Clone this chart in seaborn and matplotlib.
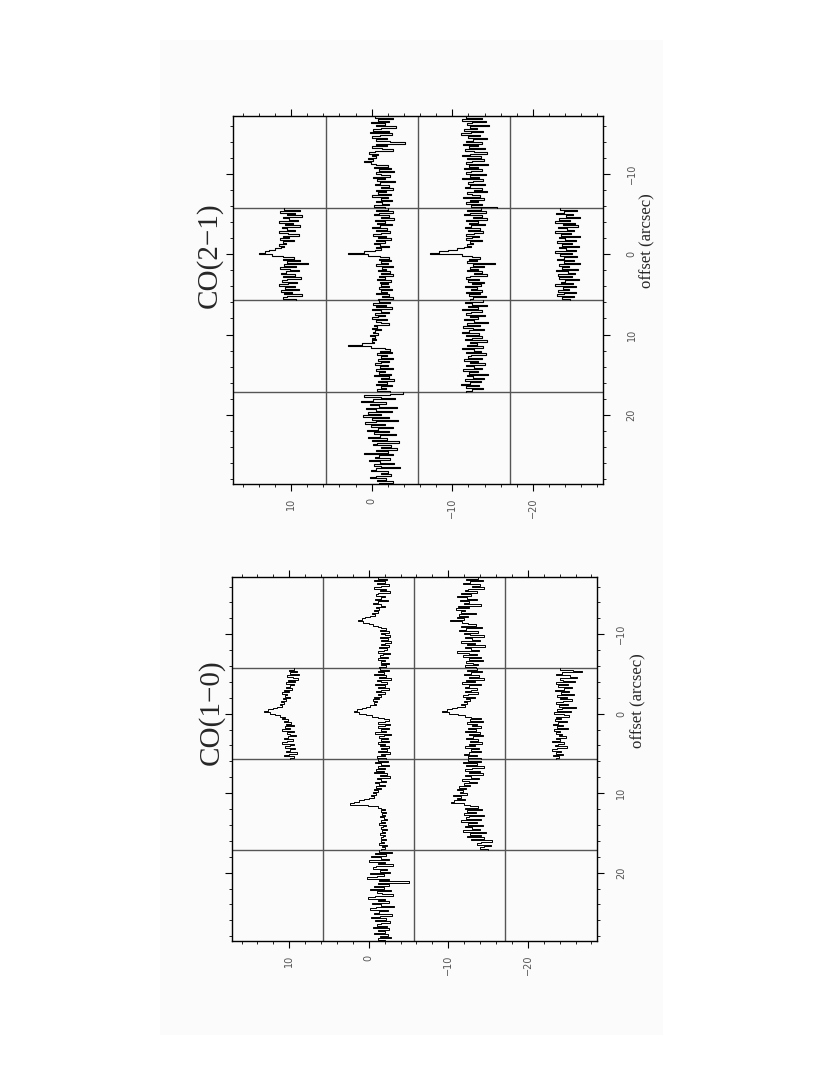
import numpy as np
import pandas as pd
import seaborn as sns
import matplotlib.pyplot as plt
from matplotlib.patches import Rectangle

# pointing grid spacing (arcsec) and pointing offsets (dx, dy)
cell = 11.45
pt_dx = [0, -11.45, 0, 11.45, 22.9, -11.45, 0, 11.45, 0]
pt_dy = [11.45, 0, 0, 0, 0, -11.45, -11.45, -11.45, -22.9]

# ---- CO(1-0) spectra (intensity in plot units, 64 channels each) ----
co10_y11_x0 = [-0.4, 0.3, -0.7, 0.1, -1.0, 0.5, -0.2, -0.8, 0.4, -0.5, 0.7, -0.3, 0.2, 0.6, -0.1, 0.9,
               0.3, 1.1, 0.5, 0.8, 0.2, 1.0, 0.6, 1.3, 0.9, 1.4, 1.1, 1.8, 2.3, 2.9, 3.4, 2.7,
               2.0, 1.4, 0.8, 1.1, 0.4, 0.9, 0.0, 0.6, -0.4, 0.8, 0.2, 1.1, -0.3, 0.5, 0.2, -0.6,
               0.4, 0.9, -0.2, 0.5, 1.2, -0.3, 0.2, 0.8, -0.5, 0.1, 0.6, -0.7, 0.3, 0.9, -0.4, 0.2]
co10_y0_xm11 = [0.5, -0.6, 1.0, -0.3, 0.7, -0.9, 0.2, 1.1, -0.5, 0.3, -1.0, 0.6, 0.8, -0.4, 0.2, 0.9,
                -0.7, 0.5, 1.2, 0.1, -0.3, 0.8, 0.4, 1.0, 0.6, 1.3, 0.9, 1.6, 2.2, 2.6, 3.0, 2.4,
                1.7, 1.2, 0.6, 0.2, -0.5, 0.3, -0.8, 0.2, -0.3, -1.0, 0.3, -0.7, 0.1, -1.1, -0.4, 0.2,
                -0.9, 0.4, -0.6, -0.2, 0.5, -1.0, -0.1, 0.3, -0.7, 0.6, -0.4, 0.1, -0.9, 0.2, -0.5, 0.4]
co10_y0_x0 = [0.3, -0.8, 0.6, -0.2, 1.0, -0.5, 0.4, -1.1, 0.7, 0.1, -0.6, 0.9, -0.3, 0.5, -0.9, 0.2,
              0.8, -0.4, 0.6, 0.1, 1.0, 0.4, 1.2, 0.7, 1.1, 0.8, 1.5, 2.0, 2.6, 3.2, 3.6, 2.9,
              2.1, 1.3, 0.6, -0.2, -0.9, -0.4, 0.6, -1.0, -0.3, 0.5, -0.8, 0.2, -0.5, 0.9, -1.1, -0.2,
              0.4, -0.7, 0.1, -0.9, 0.6, -0.4, 0.3, -0.8, 0.2, -0.6, 0.5, -1.0, 0.1, -0.3, 0.7, -0.5]
co10_y0_x11 = [0.6, -0.7, 0.9, 0.1, -0.9, 0.5, -0.4, 0.8, -0.2, 1.0, -0.6, 0.3, -1.0, 0.7, 0.2, -0.5,
               0.9, 0.4, -0.3, 0.8, 0.2, 1.1, 0.5, 1.2, 0.8, 1.4, 1.1, 1.7, 2.3, 2.9, 3.5, 4.0,
               1.8, 0.5, 0.1, -0.3, 0.2, -0.5, 0.0, -0.4, 0.3, -0.2, -0.6, 0.1, -0.3, 0.4, -0.5, -0.1,
               0.2, -0.6, 0.0, -0.3, 0.3, -0.4, -0.1, 0.1, -0.5, 0.2, -0.2, 0.4, -0.6, 0.0, -0.3, 0.2]
co10_y0_x23 = [0.4, -1.2, 0.9, -0.5, 1.4, 0.2, -0.9, 1.7, -0.3, 0.6, -1.4, 0.8, 1.2, -0.6, 0.3, -1.0,
               1.5, -0.2, 0.7, 1.9, -0.8, 0.4, -3.4, 0.5, -0.8, 1.1, -0.2, 1.6, -1.1, 0.7, 0.0, -1.3,
               0.9, 1.8, -0.4, 0.6, -0.9, 1.3, 0.2, -1.5, 0.8, 1.6, -0.7, 0.4, 1.0, -1.2, 0.3, 1.4,
               -0.5, 0.9, -1.0, 0.2, 0.7, -0.6, 1.2, -0.9, 0.5, -0.3, 1.1, -0.7, 0.3, -1.1, 0.6, -0.4]
co10_ym11_xm11 = [-0.6, 0.9, -1.2, 0.4, 1.3, -0.8, 0.2, -1.4, 0.7, 1.1, -0.5, 1.6, 0.3, 2.0, 0.8, -0.4,
                  1.7, 0.5, 1.2, -0.9, 1.9, 0.6, 2.2, 1.0, 1.5, -0.3, 1.8, 0.7, 2.1, 1.2, 2.9, 1.4,
                  0.7, -0.3, 1.5, -1.1, 0.9, 1.8, -0.6, 1.2, 0.4, -1.3, 1.0, 0.2, -0.8, 1.6, -0.2, 0.8,
                  -1.5, 1.1, 0.3, -0.7, 2.1, 0.5, -0.4, 1.3, -0.9, 0.6, -1.2, 0.9, 0.1, -0.6, 1.0, -0.3]
co10_ym11_x0 = [-0.5, 0.8, -1.1, 0.3, 1.2, -0.7, 0.5, -1.3, 0.9, -0.2, 1.4, -0.9, 0.6, 1.0, -0.4, 0.3,
                1.1, -0.6, 0.7, 1.3, -0.2, 0.9, 0.4, 1.2, 0.8, 1.5, 1.1, 2.0, 2.7, 3.3, 3.9, 3.0,
                1.9, 1.0, 0.3, -0.9, 0.4, -1.2, 0.8, -0.5, 0.2, -1.0, 0.7, -0.3, 1.1, -0.8, 0.5, -1.2,
                0.1, 0.9, -0.6, 0.4, -1.1, 0.6, -0.2, 1.0, -0.7, 0.3, -0.9, 0.5, 1.2, -0.4, 0.7, -1.0]
co10_ym11_x11 = [0.7, -1.0, 1.3, -0.4, 0.9, -1.4, 0.2, 1.1, -0.8, 0.5, -1.2, 1.0, 0.3, -0.7, 1.4, 0.6,
                 -0.5, 1.2, 0.4, 1.8, 0.9, 2.1, 1.3, 1.7, 0.8, 2.5, 1.6, 2.0, 1.1, 2.4, 2.8, 1.2,
                 0.4, -0.6, 1.0, -1.1, 0.8, -0.3, 1.2, -1.4, 0.5, 0.9, -0.9, 1.6, -0.5, 0.7, -1.2, 1.1,
                 0.2, -0.8, 1.3, -1.6, 0.4, -0.9, 0.8, -1.3, 0.3, -2.4, -1.0, -0.5, -2.2, -1.4, -0.8, -1.9]
co10_ym23_x0 = [0.6, -1.1, -2.2, 0.3, 1.0, -0.7, -1.6, 0.5, 0.2, -1.3, 1.1, -0.4, 0.8, -0.9, 0.1, 1.2,
                -0.6, 0.4, -1.2, 0.9, -0.3, 0.6, -1.0, 0.2, 1.1, -0.5, 0.7, -1.4, 0.3, 0.9, -0.8, 1.3,
                0.0, -0.6, 1.0, 0.4, 1.2, -0.3, 0.8, 1.4, 0.2, 0.9, -0.4, 1.3, 0.6, 1.0, 0.3, 0.7,
                -0.2, 1.1, 0.5, 1.5, 0.1, 0.8, 1.2, -0.3, 0.9, 1.6, 0.4, 1.0, 0.2, 1.4, 0.7, 1.1]

# ---- CO(2-1) spectra ----
co21_y11_x0 = [0.8, -1.1, 1.3, -0.5, 0.4, -1.4, 1.0, 0.2, -0.9, 1.5, -0.3, 0.7, -1.2, 1.1, 0.5, -0.6,
               1.4, 0.3, -1.0, 0.9, 0.2, 1.3, -0.4, 1.0, 0.6, 1.5, 0.8, 1.2, 1.9, 2.7, 3.2, 3.9,
               2.3, 1.0, -0.4, 0.9, -1.1, 0.5, -2.1, 0.8, -0.7, 1.3, 0.1, -1.0, 0.6, 1.2, -0.5, 0.9,
               -1.3, 0.4, 1.1, -0.8, 0.3, 1.4, -0.6, 0.7, -1.0, 1.2, -0.2, 0.8, -1.4, 0.5, 1.0, -0.7]
co21_y0_xm11 = [1.0, -1.3, 0.6, -0.8, 1.5, -0.2, 0.9, -1.6, 0.3, 1.2, -0.7, 1.6, -1.1, 0.4, 1.3, -0.5,
                0.8, -0.9, -2.7, 0.8, -0.5, 1.3, 0.1, -1.2, 1.0, 1.7, 0.6, 1.4, 0.9, 1.8, 1.2, 2.3,
                1.5, 0.9, -0.6, 1.1, -1.0, 0.5, -1.4, 0.8, 0.2, -0.9, 1.2, -0.3, 0.7, -1.5, 0.4, 1.0,
                -0.8, 0.2, -1.2, 0.9, -0.4, 0.6, -1.0, 1.3, -0.6, 0.3, -1.1, 0.8, 0.1, -0.7, 1.1, -0.3]
co21_y0_x0 = [-0.6, 0.9, -1.2, 0.5, 1.1, -0.8, 0.3, -1.4, 1.0, -0.2, 0.7, -1.1, 0.4, 1.3, -0.5, 0.8,
              -0.9, 0.2, 1.2, -0.4, 0.6, -1.0, 0.9, -0.3, 1.1, 0.4, -0.7, 0.8, 0.3, 1.0, 2.3, 4.3,
              1.9, 0.4, -0.7, 0.5, -1.0, 0.3, -0.6, 0.8, -1.2, 0.1, -0.4, 0.6, -0.9, 0.3, -1.3, 0.5,
              -0.2, 0.7, -1.0, 0.4, -0.6, 0.2, -0.8, 0.5, -1.1, 0.3, -0.5, 0.9, -0.7, 0.1, -1.2, 0.6]
co21_y0_x11 = [0.5, -0.9, 1.2, -0.4, 0.8, -1.1, 1.4, 0.2, -0.7, 1.0, -0.3, 0.6, 1.3, -0.5, 0.9, 0.3,
               -0.8, 1.1, 0.7, 1.4, 0.2, 1.0, 1.2, 0.6, 1.6, 1.0, 1.3, 0.8, 1.4, 1.1, 2.6, 4.3,
               1.5, -0.2, -0.9, 0.4, -1.1, 0.7, -0.5, 0.2, -1.3, 0.6, -0.8, 0.3, 1.0, -0.6, 0.4, -1.2,
               0.8, -0.3, 0.5, -1.0, 1.1, -0.7, 0.2, -1.4, 0.6, -0.5, 0.9, -1.1, 0.3, -0.4, 0.7, -0.9]
co21_y0_x23 = [-2.5, -0.9, 2.4, 0.3, -1.5, 1.2, 2.7, -0.4, 1.6, 0.5, -1.8, 2.1, 0.8, -1.1, 1.9, 0.2,
               2.5, -0.7, 1.3, -1.9, 0.9, 2.2, -0.3, 1.5, -1.2, 0.6, 2.0, -0.8, 1.1, -1.6, 0.4, 1.8,
               -0.5, 1.4, -2.0, 0.7, 1.2, -1.0, 0.3, -1.7, 0.9, -0.6, 2.3, -1.3, 0.5, 1.0, -0.9, 1.7,
               0.4, -1.4, 1.1, 0.2, -2.1, 0.8, 1.5, -0.6, 0.3, -1.0, 0.9, 1.6, -0.4, 0.7, -1.2, 0.5]
co21_ym11_xm11 = [1.2, -0.8, 1.6, -1.3, 0.4, 1.0, -1.7, 0.7, -0.2, 1.4, -1.0, 0.5, 1.8, -0.6, 0.9, -1.4,
                  0.3, 1.1, -0.9, 1.5, -0.4, 0.8, -1.2, 1.3, 0.2, -1.5, 0.6, 1.7, -0.7, 1.0, -1.1, 0.4,
                  1.2, -1.6, 0.8, -0.3, 1.4, -0.9, 0.5, 1.1, -1.3, 0.7, -0.5, 1.6, -1.0, 0.3, 0.9, -1.2,
                  0.6, 1.3, -0.8, 0.2, -1.5, 1.0, 0.4, -0.6, 1.5, -1.1, 0.7, -0.3, 1.2, -0.9, 0.5, -2.7]
co21_ym11_x0 = [-0.7, 1.0, -1.3, 0.6, 1.4, -0.9, 0.3, -1.5, 1.1, -0.4, 0.8, -1.2, 0.5, 1.3, -0.6, 0.9,
                -1.0, 0.2, 1.2, -0.5, 0.4, 1.1, -0.8, 0.7, 0.3, 1.0, 0.5, 1.4, 2.3, 3.4, 4.5, 5.6,
                1.6, 0.4, -0.6, 0.8, -0.2, 1.0, -2.5, 0.3, -1.1, 0.7, -0.4, 1.0, -0.8, 0.2, -1.4, 0.6,
                1.2, -0.5, 0.9, -1.1, 0.4, -0.7, 1.3, -0.2, 0.5, -0.9, 1.1, -0.6, 0.8, -1.3, 0.3, 0.7]
co21_ym11_x11 = [-1.0, 1.3, 0.4, -1.5, 0.9, -0.3, 1.6, -0.8, 0.5, 1.1, -1.2, 0.7, -0.4, 1.4, 0.2, -1.6,
                 1.0, -0.6, 1.5, 0.3, -1.1, 0.8, 1.7, -0.5, 1.2, -0.9, 0.4, 1.3, -1.4, 0.6, -0.2, 1.0,
                 -1.0, 1.6, 0.1, -0.7, 1.2, -1.3, 0.5, 0.9, -0.8, 1.4, -0.3, 0.7, -1.2, 1.1, 0.2, -0.9,
                 1.5, -0.4, 0.8, -1.6, 1.0, 0.3, -1.1, 1.3, -0.7, 0.6, 1.8, -0.5, 1.1, -1.0, 0.4, 1.2]
co21_ym23_x0 = [0.9, -1.2, 0.4, 1.4, -0.7, 0.2, -1.5, 1.0, -0.3, 1.6, -0.9, 0.6, -1.3, 1.2, 0.1, -0.8,
                1.5, -0.4, 0.8, -1.6, 1.1, 0.3, -1.0, 1.3, -0.5, 0.7, -1.4, 1.0, 0.2, -1.1, 1.6, -0.6,
                0.9, -1.2, 0.4, 1.3, -0.8, 0.5, -1.5, 1.1, -0.2, 0.7, -1.3, 1.4, 0.0, -0.9, 1.2, -0.6,
                1.0, -1.4, 0.3, 0.8, -0.7, 1.5, -1.1, 0.6, -0.2, 1.2, -1.0, 0.4, 1.3, -0.8, 0.7, -0.3]

co10 = [co10_y11_x0, co10_y0_xm11, co10_y0_x0, co10_y0_x11, co10_y0_x23,
        co10_ym11_xm11, co10_ym11_x0, co10_ym11_x11, co10_ym23_x0]
co21 = [co21_y11_x0, co21_y0_xm11, co21_y0_x0, co21_y0_x11, co21_y0_x23,
        co21_ym11_xm11, co21_ym11_x0, co21_ym11_x11, co21_ym23_x0]

sns.set_style('ticks')
plt.rcParams['font.family'] = ['DejaVu Sans']

fig = plt.figure(figsize=(8.3, 10.75), dpi=100)
# faint grey page behind the scanned plots
fig.patches.append(Rectangle((160 / 830, 1 - 1035 / 1075), 503 / 830, 995 / 1075,
                             transform=fig.transFigure, facecolor='#fbfbfb', edgecolor='none', zorder=-5))


def draw_spectrum(ax, dx, dy, vals, base, lw):
    vals = np.asarray(vals, dtype=float)
    edges = np.linspace(dx - cell / 2, dx + cell / 2, len(vals) + 1)
    df = pd.DataFrame({'dx': np.repeat(edges, 2)[1:-1],
                       'dy': dy + base + np.repeat(vals, 2)})
    sns.lineplot(data=df, x='dy', y='dx', sort=False, estimator=None, orient='y',
                 color='black', lw=lw, ax=ax)


def panel(rect, spectra, base, lw, title, title_xy, lab_xy, ypad):
    ax = fig.add_axes(rect)
    ax.set_facecolor('none')
    for b in [cell / 2, -cell / 2, -1.5 * cell]:
        ax.axvline(b, color='#555555', lw=1.0, zorder=1)
    for b in [-cell / 2, cell / 2, 1.5 * cell]:
        ax.axhline(b, color='#555555', lw=1.0, zorder=1)
    for dx, dy, sp in zip(pt_dx, pt_dy, spectra):
        draw_spectrum(ax, dx, dy, sp, base, lw)
    ax.set_xlim(17.2, -28.7)
    ax.set_ylim(28.6, -17.2)
    ax.set_xticks([10, 0, -10, -20])
    ax.set_xticks(np.arange(16, -29, -2), minor=True)
    ax.set_yticks([-10, 0, 10, 20])
    ax.set_yticks(np.arange(-16, 29, 2), minor=True)
    ax.set_xlabel('')
    ax.set_ylabel('')
    ax.tick_params(which='both', direction='out', top=True, right=True, left=True, bottom=True,
                   labelleft=False, labelright=True, labelbottom=True, color='black',
                   labelsize=7, labelcolor='#555555')
    ax.tick_params(which='major', length=5, width=0.8)
    ax.tick_params(which='minor', length=2.5, width=0.6)
    ax.tick_params(axis='x', which='major', pad=5)
    ax.tick_params(axis='y', which='major', pad=ypad)
    for t in ax.get_xticklabels():
        t.set_rotation(90)
    for t in ax.get_yticklabels():
        t.set_rotation(90)
        t.set_va('center')
    for s in ax.spines.values():
        s.set_color('black')
        s.set_linewidth(1.0)
    fig.text(title_xy[0] / 830, 1 - title_xy[1] / 1075, title, rotation=90, ha='center', va='center',
             fontsize=21, family=['Liberation Serif', 'DejaVu Serif'])
    fig.text(lab_xy[0] / 830, 1 - lab_xy[1] / 1075, 'offset (arcsec)', rotation=90, ha='center',
             va='center', fontsize=12, family=['Liberation Serif', 'DejaVu Serif'])
    return ax


panel([233 / 830, 1 - 484 / 1075, 370 / 830, 368 / 1075], co21, -1.4, 0.8,
      'CO(2\u22121)', (209, 255), (647, 241), 12)
panel([232 / 830, 1 - 941 / 1075, 365 / 830, 364 / 1075], co10, -1.7, 0.7,
      'CO(1\u22120)', (211, 712), (638, 701), 9)

fig.savefig('out.png', dpi=100)
